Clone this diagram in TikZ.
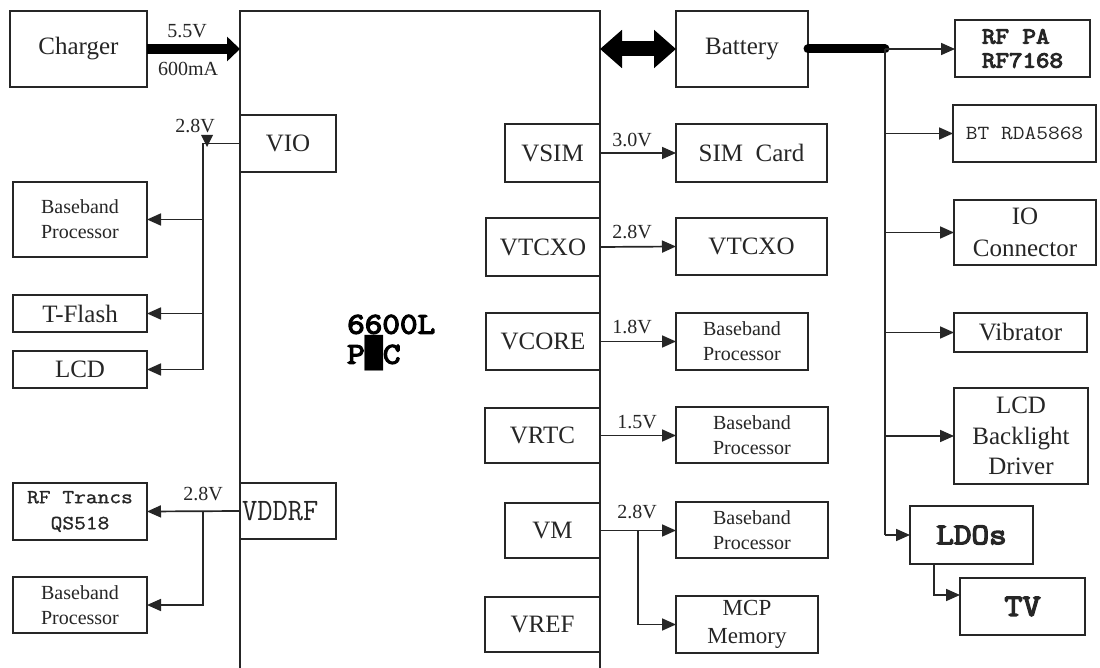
\documentclass[tikz,border=0pt]{standalone}
\usepackage{fontspec}
\setmainfont{Liberation Serif}
\newfontfamily\smonol{Latin Modern Mono}[FakeStretch=1.14]
\newfontfamily\smono{Latin Modern Mono}[FakeStretch=1.14,FakeBold=1.2]
\newfontfamily\smonob{Latin Modern Mono}[FakeStretch=1.14,FakeBold=4.5]
\newfontfamily\blockfont{DejaVu Sans Mono}
\usetikzlibrary{arrows.meta,calc}
\newcommand{\fsz}[2]{\fontsize{#1}{#2}\selectfont}
\begin{document}
\begin{tikzpicture}[x=1pt,y=-1pt,
  box/.style={draw=black!85,line width=1.7pt,inner sep=0pt,outer sep=0pt,align=center,text=black!85,font=\fsz{25pt}{30pt}},
  small/.style={font=\fsz{20pt}{25pt}},
  monor/.style={font=\smono\fsz{20pt}{26pt}},
  monol/.style={font=\smonol\fsz{20pt}{26pt}},
  monob/.style={font=\smonob\fsz{23pt}{24pt}},
  volt/.style={font=\fsz{20pt}{24pt},text=black!85,inner sep=0pt},
  wire/.style={line width=1.7pt,draw=black!85},
  arr/.style={wire,-{Triangle[length=14pt,width=12pt]}},
]
\useasboundingbox (0,0) rectangle (1100,668);
\fill[white] (0,0) rectangle (1100,668);

% left column
\node[box,minimum width=137pt,minimum height=76pt] (charger) at (78.5,49) {Charger};
\node[draw=none,inner sep=0pt,outer sep=0pt,minimum width=360pt,minimum height=668pt] (pmic) at (420,345) {};
\draw[wire] (pmic.south west) -- (pmic.north west) -- (pmic.north east) -- (pmic.south east);
\node[anchor=west,inner sep=0pt,align=left,font=\smonob\fsz{30pt}{30pt}] (pmictext) at (347,343) {6600L\\P{\blockfont █}C};

\node[box,minimum width=96pt,minimum height=57pt] (vio) at (288,143.5) {VIO};
\node[box,small,minimum width=134pt,minimum height=75pt] (bb1) at (80,219.5) {Baseband\\Processor};
\node[box,minimum width=134pt,minimum height=37pt] (tflash) at (80,313.5) {T-Flash};
\node[box,minimum width=134pt,minimum height=37pt] (lcd) at (80,369.5) {LCD};
\node[box,monor,minimum width=134pt,minimum height=57pt] (rftr) at (80,511.5) {RF Trancs\\QS518};
\node[box,font=\smonol\fsz{26pt}{26pt},text width=92pt,align=left,inner xsep=2pt,minimum height=56pt] (vddrf) at (288,511) {\scalebox{1}[1.2]{VDDRF}};
\node[box,small,minimum width=134pt,minimum height=56pt] (bb2) at (80,605) {Baseband\\Processor};

% inner regulators
\node[box,minimum width=95pt,minimum height=58pt] (vsim) at (552.5,153) {VSIM};
\node[box,minimum width=114pt,minimum height=58pt] (vtcxo) at (543,247) {VTCXO};
\node[box,minimum width=114pt,minimum height=57pt] (vcore) at (543,341.5) {VCORE};
\node[box,minimum width=115pt,minimum height=55pt] (vrtc) at (542.5,435.5) {VRTC};
\node[box,minimum width=95pt,minimum height=55pt] (vm) at (552.5,530.5) {VM};
\node[box,minimum width=115pt,minimum height=55pt] (vref) at (542.5,624.5) {VREF};

% middle right column
\node[box,minimum width=132pt,minimum height=76pt] (battery) at (742,49) {Battery};
\node[box,minimum width=151pt,minimum height=58pt] (sim) at (751.5,153) {SIM\enspace Card};
\node[box,minimum width=151pt,minimum height=57pt] (vtcxo2) at (751.5,246.5) {VTCXO};
\node[box,small,minimum width=132pt,minimum height=57pt] (bb3) at (742,341.5) {Baseband\\Processor};
\node[box,small,minimum width=152pt,minimum height=56pt] (bb4) at (752,435) {Baseband\\Processor};
\node[box,small,minimum width=152pt,minimum height=56pt] (bb5) at (752,530) {Baseband\\Processor};
\node[box,font=\fsz{23pt}{28pt},minimum width=142pt,minimum height=57pt] (mcp) at (747,624.5) {MCP\\Memory};

% far right column
\node[box,monob,align=left,minimum width=135pt,minimum height=57pt] (rfpa) at (1022.5,48.5) {RF PA\\RF7168};
\node[box,monol,minimum width=143pt,minimum height=57pt] (bt) at (1024.5,133.5) {BT RDA5868};
\node[box,font=\fsz{25pt}{32pt},minimum width=142pt,minimum height=65pt] (io) at (1025,232.5) {IO\\Connector};
\node[box,minimum width=133pt,minimum height=39pt] (vib) at (1020.5,332.5) {Vibrator};
\node[box,font=\fsz{25pt}{30.5pt},minimum width=134pt,minimum height=96pt] (lcdbl) at (1021,436) {LCD\\Backlight\\Driver};
\node[box,font=\smonob\fsz{30pt}{30pt},minimum width=123pt,minimum height=58pt] (ldos) at (971.5,535) {LDOs};
\node[box,font=\smonob\fsz{31pt}{31pt},minimum width=125pt,minimum height=57pt] (tv) at (1022.5,606.5) {TV};

% power in
\draw[draw=black,line width=10pt,-{Triangle[length=13pt,width=24pt]}] (charger.east) -- (charger.east -| pmic.west);
\node[volt] (l55) at (187,31) {5.5V};
\node[volt] (l600) at (188,69) {600mA};
\draw[draw=black,line width=15pt,{Triangle[length=22pt,width=37pt]}-{Triangle[length=22pt,width=37pt]}] (battery.west -| pmic.east) -- (battery.west);

% VIO
\coordinate (vj) at (203,143.5);
\draw[wire] (vio.west) -- (vj) -- (vj |- lcd.east);
\fill[black!85] (201,135) -- (213,135) -- (207,147) -- cycle;
\node[volt] (lvio) at (195,126) {2.8V};
\draw[arr] (vj |- bb1.east) -- (bb1.east);
\draw[arr] (vj |- tflash.east) -- (tflash.east);
\draw[arr] (vj |- lcd.east) -- (lcd.east);

% VDDRF
\draw[arr] (vddrf.west) -- (rftr.east);
\coordinate (dj) at (203,511);
\draw[arr] (dj) |- (bb2.east);
\node[volt] (lvdd) at (203,494) {2.8V};

% regulators out
\draw[arr] (vsim.east) -- (sim.west);
\node[volt] (lsim) at (632,140) {3.0V};
\draw[arr] (vtcxo.east) -- (vtcxo2.west);
\node[volt] (ltc) at (632,232) {2.8V};
\draw[arr] (vcore.east) -- (vcore.east -| bb3.west);
\node[volt] (lcore) at (632,327) {1.8V};
\draw[arr] (vrtc.east) -- (vrtc.east -| bb4.west);
\node[volt] (lrtc) at (637,422) {1.5V};
\draw[arr] (vm.east) -- (vm.east -| bb5.west);
\node[volt] (lvm) at (637,512) {2.8V};
\coordinate (mj) at (638,530.5);
\draw[arr] (mj) |- (mcp.west);

% battery distribution
\coordinate (j1) at (885,49);
\draw[draw=black,line width=9pt,line cap=round] (battery.east) -- (j1);
\draw[arr] (j1) -- (j1 -| rfpa.west);
\draw[wire] (j1) -- (j1 |- ldos.west);
\draw[arr] (j1 |- bt.west) -- (bt.west);
\draw[arr] (j1 |- io.west) -- (io.west);
\draw[arr] (j1 |- vib.west) -- (vib.west);
\draw[arr] (j1 |- lcdbl.west) -- (lcdbl.west);
\draw[arr] (j1 |- ldos.west) -- (ldos.west);
\coordinate (lj) at (934,564);
\draw[arr] (lj) |- ($(tv.west)+(0,-11.5)$);
\end{tikzpicture}
\end{document}
